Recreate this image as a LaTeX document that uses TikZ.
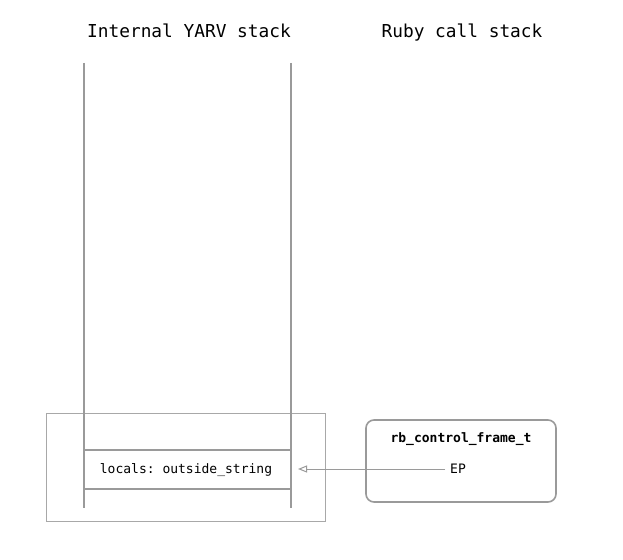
\documentclass[tikz,border=0pt]{standalone}
\usepackage{fontspec}
\setmonofont{DejaVu Sans Mono}
\usetikzlibrary{arrows.meta}
\definecolor{ln}{HTML}{9A9A9A}
\definecolor{lt}{HTML}{A8A8A8}
\tikzset{
  stackline/.style={draw=ln, line width=1.6pt},
  title/.style={font=\ttfamily\fontsize{17.8}{20}\selectfont, text=black, inner sep=0pt, anchor=base},
  small/.style={font=\ttfamily\fontsize{13}{15}\selectfont, text=black, inner sep=0pt, anchor=base},
}
\begin{document}
\begin{tikzpicture}[x=1pt,y=-1pt]
\useasboundingbox (0,0) rectangle (623,559);
\fill[white] (0,0) rectangle (623,559);
\node[title] (t1) at (189,38) {Internal YARV stack};
\node[title] (t2) at (462,38) {Ruby call stack};
\coordinate (lt) at (84,63); \coordinate (lb) at (84,508);
\coordinate (rt) at (291,63); \coordinate (rb) at (291,508);
\draw[draw=lt, line width=1pt] (46,413) rectangle (325,521);
\draw[stackline] (lt) -- (lb);
\draw[stackline] (rt) -- (rb);
\draw[stackline] (84,450) -- (291,450);
\draw[stackline] (84,489) -- (291,489);
\node[small] (loc) at (186,473.5) {locals: outside\_string};
\draw[draw=ln, line width=1.6pt, rounded corners=8pt] (366,420) rectangle (556,502);
\node[small, font=\ttfamily\bfseries\fontsize{13}{15}\selectfont] (cf) at (461,442.5) {rb\_control\_frame\_t};
\node[small] (ep) at (458,473.5) {EP};
\coordinate (tip) at (298,469);
\draw[draw=ln, line width=1pt, -{Triangle[open, length=9pt, width=7pt]}] (445,469) -- (tip);
\end{tikzpicture}
\end{document}
